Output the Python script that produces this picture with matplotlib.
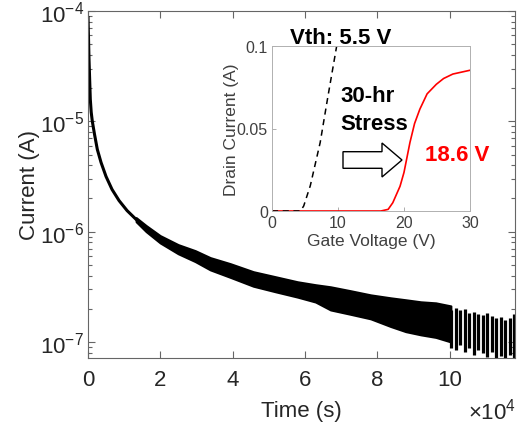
import matplotlib
matplotlib.use("Agg")
import matplotlib.pyplot as plt
from matplotlib.ticker import FuncFormatter, LogLocator, NullFormatter
from matplotlib.patches import FancyArrow

plt.rcParams['font.family'] = ['Liberation Sans', 'DejaVu Sans']
plt.rcParams['mathtext.default'] = 'regular'

# ---- main curve: early decay (center line) ----
early_time = [0, 277, 637, 886, 1191, 1801, 2576, 3601, 4986, 6648, 8587, 10803, 13296, 16066]
early_curr = [9.0e-5, 3.66e-5, 1.585e-5, 1.21e-5, 1.0e-5, 7.62e-6, 5.56e-6, 4.24e-6,
              3.16e-6, 2.41e-6, 1.91e-6, 1.55e-6, 1.29e-6, 1.064e-6]

# ---- noisy band (upper / lower envelope) ----
band_time = [13296, 16066, 19944, 24930, 29639, 33794, 39334, 45705, 51799, 57893,
             62879, 67034, 72574, 78114, 83654, 87809, 91964, 96119, 100274]
band_hi = [1.34e-6, 1.135e-6, 9.2e-7, 7.62e-7, 6.72e-7, 5.81e-7, 5.12e-7, 4.33e-7, 3.90e-7,
           3.51e-7, 3.30e-7, 3.16e-7, 2.91e-7, 2.67e-7, 2.51e-7, 2.41e-7, 2.31e-7, 2.26e-7, 2.12e-7]
band_lo = [1.23e-6, 1.0e-6, 7.9e-7, 6.3e-7, 5.35e-7, 4.5e-7, 3.85e-7, 3.2e-7, 2.85e-7,
           2.55e-7, 2.3e-7, 1.95e-7, 1.78e-7, 1.62e-7, 1.38e-7, 1.24e-7, 1.16e-7, 1.1e-7, 1.0e-7]

# ---- sparse tail spikes ----
tail_time = [100277, 101662, 102770, 104155, 105263, 106648, 107756, 109141,
             110249, 111634, 112742, 114127, 115235, 116620, 117729]
tail_hi = [1.95e-7, 2.04e-7, 1.95e-7, 2.0e-7, 1.84e-7, 1.87e-7, 1.80e-7, 1.76e-7,
           1.84e-7, 1.72e-7, 1.65e-7, 1.69e-7, 1.58e-7, 1.65e-7, 1.80e-7]
tail_lo = [8.8e-8, 8.45e-8, 9.4e-8, 8.1e-8, 8.8e-8, 7.6e-8, 8.45e-8, 7.94e-8,
           7.3e-8, 8.1e-8, 7.16e-8, 7.46e-8, 6.86e-8, 7.6e-8, 7.16e-8]

# ---- inset transfer curves ----
fresh_vg = [0, 4.3, 4.8, 5.8, 7.3, 8.4, 9.8, 10.2]
fresh_id = [0, 0, 0.003, 0.0153, 0.0415, 0.0677, 0.100, 0.108]
stress_vg = [0, 16.5, 17.6, 18.3, 19.4, 20.0, 20.9, 21.6, 22.4, 23.5, 24.9, 26.0, 27.4, 30]
stress_id = [0, 0, 0.001, 0.005, 0.015, 0.0234, 0.0415, 0.053, 0.0617, 0.071, 0.0768,
             0.0803, 0.083, 0.0853]

x_ticks = [0, 20000, 40000, 60000, 80000, 100000]

W, H = 520, 427
fig = plt.figure(figsize=(W / 100, H / 100), dpi=100)
ax = fig.add_axes([88 / W, 1 - 359 / H, 427 / W, 347 / H])

txt = '#262626'
spc = '#666666'
FS = 16

ax.plot(early_time, early_curr, color='black', lw=2.2, solid_capstyle='butt')
ax.fill_between(band_time, band_lo, band_hi, color='black', lw=1.5, edgecolor='black')
ax.vlines(tail_time, tail_lo, tail_hi, color='black', lw=2.3)

ax.set_yscale('log')
ax.set_xlim(0, 118000)
ax.set_ylim(7.15e-8, 1e-4)
ax.set_xticks(x_ticks)
ax.xaxis.set_major_formatter(FuncFormatter(lambda v, p: f"{v / 1e4:g}"))
ax.yaxis.set_major_locator(LogLocator(base=10, numticks=10))
ax.yaxis.set_minor_locator(LogLocator(base=10, subs=range(2, 10), numticks=20))
ax.yaxis.set_minor_formatter(NullFormatter())
ax.tick_params(which='both', direction='in', top=True, right=True, colors=spc,
               labelcolor=txt, labelsize=FS, width=0.8)
ax.tick_params(which='major', length=5)
ax.tick_params(which='minor', length=3)
ax.tick_params(axis='x', pad=8)
ax.tick_params(axis='y', pad=3)
for s in ax.spines.values():
    s.set_color(spc)
    s.set_linewidth(0.8)
ax.set_xlabel('Time (s)', fontsize=FS, color=txt, labelpad=7)
ax.set_ylabel('Current (A)', fontsize=FS, color=txt, labelpad=0)
fig.text(492 / W, 1 - 412 / H, r'$\times10^{4}$', fontsize=FS, color=txt,
         ha='center', va='center')

# ---- inset ----
ins = fig.add_axes([272 / W, 1 - 212 / H, 198 / W, 165 / H])
ins.plot(stress_vg, stress_id, color='#ff0000', lw=1.2)
ins.plot(fresh_vg, fresh_id, color='black', lw=1.1, ls=(0, (4, 3)))
ins.set_xlim(0, 30)
ins.set_ylim(0, 0.1)
ins.set_xticks([0, 10, 20, 30])
ins.set_yticks([0, 0.05, 0.1])
ins.set_yticklabels(['0', '0.05', '0.1'])
ins.tick_params(direction='in', length=3, colors='#a0a0a0', labelcolor='#404040',
                labelsize=11.5, width=0.6, pad=3)
for s in ins.spines.values():
    s.set_color('#b0b0b0')
    s.set_linewidth(0.7)
ins.set_xlabel('Gate Voltage (V)', fontsize=12.5, color='#404040', labelpad=2)
ins.set_ylabel('Drain Current (A)', fontsize=12.5, color='#404040')
ins.yaxis.set_label_coords(-0.165, 0.5)

BF = 16
fig.text(290 / W, 1 - 38 / H, 'Vth: 5.5 V', fontsize=BF, fontweight='bold',
         color='black', ha='left', va='center')
fig.text(340 / W, 1 - 97 / H, '30-hr', fontsize=BF, fontweight='bold',
         color='black', ha='left', va='center')
fig.text(340 / W, 1 - 125 / H, 'Stress', fontsize=BF, fontweight='bold',
         color='black', ha='left', va='center')
fig.text(425 / W, 1 - 156 / H, '18.6 V', fontsize=BF, fontweight='bold',
         color='#ff0000', ha='left', va='center')

arrow = FancyArrow(343 / W, 1 - 161 / H, (402 - 343) / W, 0,
                   width=16.6 / H, head_width=34 / H, head_length=20 / W,
                   length_includes_head=True, transform=fig.transFigure,
                   facecolor='white', edgecolor='black', lw=1.0)
fig.patches.append(arrow)

fig.savefig('out.png', dpi=100)
